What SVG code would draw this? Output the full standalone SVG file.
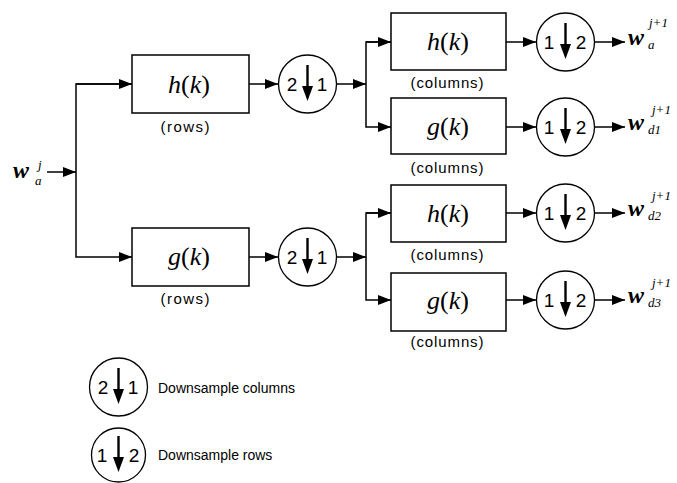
<svg xmlns="http://www.w3.org/2000/svg" xmlns:xlink="http://www.w3.org/1999/xlink" width="677" height="483" viewBox="0 0 677 483">
<defs>
<style>
.box{fill:#fff;stroke:#000;stroke-width:1.5}
.ds{fill:#fff;stroke:#000;stroke-width:1.3}
.conn{fill:none;stroke:#000;stroke-width:1.5}
.fn{font-family:"Liberation Serif","Times New Roman",serif;font-size:26px;text-anchor:middle}
.it{font-style:italic}
.lbl{font-family:"Liberation Sans",Arial,sans-serif;font-size:15px;text-anchor:middle}
.leg{font-family:"Liberation Sans",Arial,sans-serif;font-size:14px}
.dig{font-family:"Liberation Sans",Arial,sans-serif;font-size:19px;text-anchor:middle}
.w{font-family:"Liberation Serif","Times New Roman",serif;font-weight:bold;font-style:italic;font-size:24px}
.sc{font-family:"Liberation Serif","Times New Roman",serif;font-style:italic;font-size:13px}
</style>
<marker id="ah" markerUnits="userSpaceOnUse" markerWidth="13" markerHeight="10" refX="13" refY="5" orient="auto">
<path d="M0,0 L13,5 L0,10 z" fill="#000"/>
</marker>
<g id="darr">
<line x1="0" y1="-19" x2="0" y2="4" stroke="#000" stroke-width="2.4"/>
<path d="M-5.5,2 L5.5,2 L0,17 z" fill="#000"/>
</g>
</defs>

<g id="connectors" class="conn">
<line x1="47" y1="172" x2="76" y2="172" marker-end="url(#ah)"/>
<polyline points="132,84 76,84 76,257 132,257" marker-end="url(#ah)"/>
<line x1="76" y1="84" x2="132" y2="84" marker-end="url(#ah)"/>
<line x1="249" y1="84" x2="278" y2="84" marker-end="url(#ah)"/>
<line x1="249" y1="257" x2="278" y2="257" marker-end="url(#ah)"/>
<line x1="337" y1="84" x2="366" y2="84" marker-end="url(#ah)"/>
<line x1="337" y1="257" x2="366" y2="257" marker-end="url(#ah)"/>
<polyline points="391,42 366,42 366,127 391,127" marker-end="url(#ah)"/>
<line x1="366" y1="42" x2="391" y2="42" marker-end="url(#ah)"/>
<polyline points="391,213 366,213 366,300 391,300" marker-end="url(#ah)"/>
<line x1="366" y1="213" x2="391" y2="213" marker-end="url(#ah)"/>
<line x1="506" y1="42" x2="536" y2="42" marker-end="url(#ah)"/>
<line x1="506" y1="127" x2="536" y2="127" marker-end="url(#ah)"/>
<line x1="506" y1="213" x2="536" y2="213" marker-end="url(#ah)"/>
<line x1="506" y1="300" x2="536" y2="300" marker-end="url(#ah)"/>
<line x1="595" y1="42" x2="625" y2="42" marker-end="url(#ah)"/>
<line x1="595" y1="127" x2="625" y2="127" marker-end="url(#ah)"/>
<line x1="595" y1="213" x2="625" y2="213" marker-end="url(#ah)"/>
<line x1="595" y1="300" x2="625" y2="300" marker-end="url(#ah)"/>
</g>

<g id="input">
<text class="w" x="13" y="178">w</text>
<text class="sc" x="38" y="169">j</text>
<text class="sc" x="35" y="185">a</text>
</g>

<g id="h-rows">
<rect class="box" x="132" y="55" width="117" height="58"/>
<text class="fn" x="189" y="93"><tspan class="it">h</tspan>(<tspan class="it">k</tspan>)</text>
<text class="lbl" x="185" y="132" textLength="49" lengthAdjust="spacing">(rows)</text>
</g>
<g id="g-rows">
<rect class="box" x="132" y="228" width="117" height="58"/>
<text class="fn" x="189" y="265"><tspan class="it">g</tspan>(<tspan class="it">k</tspan>)</text>
<text class="lbl" x="185" y="304" textLength="49" lengthAdjust="spacing">(rows)</text>
</g>

<g id="ds-col-top">
<circle class="ds" cx="307.5" cy="84" r="29"/>
<use xlink:href="#darr" x="307.5" y="84"/>
<text class="dig" x="292" y="91">2</text>
<text class="dig" x="322" y="91">1</text>
</g>
<g id="ds-col-bot">
<circle class="ds" cx="307.5" cy="257" r="29"/>
<use xlink:href="#darr" x="307.5" y="257"/>
<text class="dig" x="292" y="264">2</text>
<text class="dig" x="322" y="264">1</text>
</g>

<g id="h-cols-1">
<rect class="box" x="391" y="13" width="115" height="57"/>
<text class="fn" x="448" y="50"><tspan class="it">h</tspan>(<tspan class="it">k</tspan>)</text>
<text class="lbl" x="447" y="88" textLength="73" lengthAdjust="spacing">(columns)</text>
</g>
<g id="g-cols-1">
<rect class="box" x="391" y="98" width="115" height="56"/>
<text class="fn" x="448" y="135"><tspan class="it">g</tspan>(<tspan class="it">k</tspan>)</text>
<text class="lbl" x="447" y="173" textLength="73" lengthAdjust="spacing">(columns)</text>
</g>
<g id="h-cols-2">
<rect class="box" x="391" y="185" width="115" height="57"/>
<text class="fn" x="448" y="222"><tspan class="it">h</tspan>(<tspan class="it">k</tspan>)</text>
<text class="lbl" x="447" y="260" textLength="73" lengthAdjust="spacing">(columns)</text>
</g>
<g id="g-cols-2">
<rect class="box" x="391" y="273" width="115" height="58"/>
<text class="fn" x="448" y="309"><tspan class="it">g</tspan>(<tspan class="it">k</tspan>)</text>
<text class="lbl" x="447" y="347" textLength="73" lengthAdjust="spacing">(columns)</text>
</g>

<g id="ds-row-1">
<circle class="ds" cx="565.5" cy="42" r="29"/>
<use xlink:href="#darr" x="565.5" y="42"/>
<text class="dig" x="549" y="49">1</text>
<text class="dig" x="581" y="49">2</text>
</g>
<g id="ds-row-2">
<circle class="ds" cx="565.5" cy="127" r="29"/>
<use xlink:href="#darr" x="565.5" y="127"/>
<text class="dig" x="549" y="134">1</text>
<text class="dig" x="581" y="134">2</text>
</g>
<g id="ds-row-3">
<circle class="ds" cx="565.5" cy="213" r="29"/>
<use xlink:href="#darr" x="565.5" y="213"/>
<text class="dig" x="549" y="220">1</text>
<text class="dig" x="581" y="220">2</text>
</g>
<g id="ds-row-4">
<circle class="ds" cx="565.5" cy="300" r="29"/>
<use xlink:href="#darr" x="565.5" y="300"/>
<text class="dig" x="549" y="307">1</text>
<text class="dig" x="581" y="307">2</text>
</g>

<g id="out-a">
<text class="w" x="628" y="45">w</text>
<text class="sc" x="649" y="27">j+1</text>
<text class="sc" x="648" y="49">a</text>
</g>
<g id="out-d1">
<text class="w" x="628" y="130">w</text>
<text class="sc" x="652" y="114">j+1</text>
<text class="sc" x="648" y="134">d1</text>
</g>
<g id="out-d2">
<text class="w" x="628" y="216">w</text>
<text class="sc" x="652" y="200">j+1</text>
<text class="sc" x="648" y="220">d2</text>
</g>
<g id="out-d3">
<text class="w" x="628" y="303">w</text>
<text class="sc" x="652" y="287">j+1</text>
<text class="sc" x="648" y="307">d3</text>
</g>

<g id="legend-col">
<circle class="ds" cx="118.5" cy="387" r="29"/>
<use xlink:href="#darr" x="118.5" y="387"/>
<text class="dig" x="103" y="394">2</text>
<text class="dig" x="133" y="394">1</text>
<text class="leg" x="158" y="393">Downsample columns</text>
</g>
<g id="legend-row">
<circle class="ds" cx="118.5" cy="455" r="27"/>
<use xlink:href="#darr" x="118.5" y="455"/>
<text class="dig" x="102" y="462">1</text>
<text class="dig" x="134" y="462">2</text>
<text class="leg" x="158" y="460">Downsample rows</text>
</g>
</svg>
